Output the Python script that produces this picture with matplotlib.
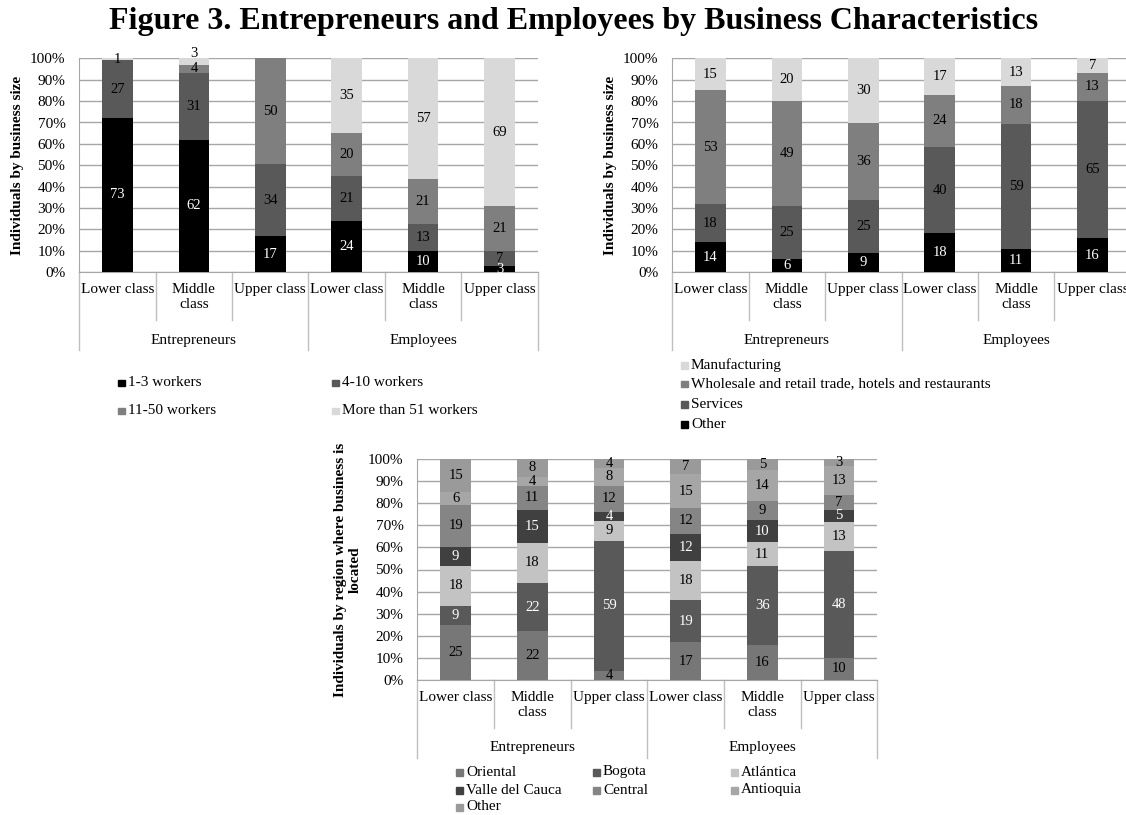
import numpy as np
import matplotlib.pyplot as plt
from matplotlib.patches import Rectangle
from matplotlib.ticker import PercentFormatter

plt.rcParams['font.family'] = ['Liberation Serif', 'DejaVu Serif']

W, H = 1126, 815

groups = ["Entrepreneurs", "Employees"]
classes = ["Lower class", "Middle\nclass", "Upper class"]

# Panel 1: business size (stacked bottom -> top)
size_names = ["1-3 workers", "4-10 workers", "11-50 workers", "More than 51 workers"]
size_1_3 = [73, 62, 17, 24, 10, 3]
size_4_10 = [27, 31, 34, 21, 13, 7]
size_11_50 = [0, 4, 50, 20, 21, 21]
size_51_plus = [1, 3, 0, 35, 57, 69]

# Panel 2: sector (bottom -> top)
sector_names = ["Other", "Services",
                "Wholesale and retail trade, hotels and restaurants", "Manufacturing"]
sector_other = [14, 6, 9, 18, 11, 16]
sector_services = [18, 25, 25, 40, 59, 65]
sector_trade = [53, 49, 36, 24, 18, 13]
sector_manuf = [15, 20, 30, 17, 13, 7]

# Panel 3: region (bottom -> top)
region_names = ["Oriental", "Bogota", "Atlántica", "Valle del Cauca",
                "Central", "Antioquia", "Other"]
region_oriental = [25, 22, 4, 17, 16, 10]
region_bogota = [9, 22, 59, 19, 36, 48]
region_atlantica = [18, 18, 9, 18, 11, 13]
region_valle = [9, 15, 4, 12, 10, 5]
region_central = [19, 11, 12, 12, 9, 7]
region_antioquia = [6, 4, 8, 15, 14, 13]
region_other = [15, 8, 4, 7, 5, 3]

grid_col = "#a6a6a6"
sep_col = "#bfbfbf"


def draw_panel(fig, rect, series, colors, text_colors, ylabel):
    ax = fig.add_axes(rect)
    data = np.array(series, dtype=float)
    pct = data / data.sum(axis=0) * 100  # 100% stacked like Excel
    x = np.arange(data.shape[1])
    bottom = np.zeros(data.shape[1])
    for k, (vals, p, col, tc) in enumerate(zip(data, pct, colors, text_colors)):
        ax.bar(x, p, bottom=bottom, width=0.4, color=col, zorder=3)
        for xi, v, pi, b in zip(x, vals, p, bottom):
            if v <= 0:
                continue
            if k == len(data) - 1 and 1.5 < pi <= 3.0:
                # tiny top segment: Excel pushes the label over the bar
                ax.text(xi, 99, f"{v:g}", ha="center", va="bottom",
                        color=tc, fontsize=10.5, zorder=4, clip_on=False)
            else:
                ax.text(xi, b + pi / 2, f"{v:g}", ha="center", va="center",
                        color=tc, fontsize=10.5, zorder=4)
        bottom += p

    ax.set_xlim(-0.5, len(x) - 0.5)
    ax.set_ylim(0, 100)
    ax.set_yticks(range(0, 101, 10))
    ax.yaxis.set_major_formatter(PercentFormatter(decimals=0))
    ax.tick_params(axis="y", length=0, pad=10, labelsize=11)
    ax.set_xticks([])
    ax.grid(axis="y", color=grid_col, lw=1)
    ax.set_axisbelow(True)
    for s in ["top", "right"]:
        ax.spines[s].set_visible(False)
    for s in ["left", "bottom"]:
        ax.spines[s].set_color(grid_col)
    ax.set_ylabel(ylabel, fontsize=11, fontweight="bold")
    ax.yaxis.set_label_coords(-0.12, 0.5)

    # two-level category axis
    h = rect[3] * H
    tr = ax.get_xaxis_transform()
    for i, edge in enumerate(np.arange(-0.5, len(x), 1)):
        depth = 78 if i % 3 == 0 else 48
        ax.plot([edge, edge], [0, -depth / h], transform=tr, color=sep_col,
                lw=1, clip_on=False)
    for i in x:
        ax.text(i, -11 / h, classes[i % 3], transform=tr, ha="center",
                va="top", fontsize=11)
    for g, name in enumerate(groups):
        ax.text(3 * g + 1, -68 / h, name, transform=tr, ha="center",
                va="center", fontsize=11)
    return ax


def legend_entries(fig, names, colors, xs, ys):
    for name, col, xp, yp in zip(names, colors, xs, ys):
        fig.add_artist(Rectangle((xp / W, 1 - (yp + 3.5) / H), 7 / W, 7 / H,
                                 transform=fig.transFigure, color=col))
        fig.text((xp + 10) / W, 1 - yp / H, name, va="center", fontsize=11)


fig = plt.figure(figsize=(W / 100, H / 100), dpi=100)

fig.text(0.509, 1 - 22 / H,
         "Figure 3. Entrepreneurs and Employees by Business Characteristics",
         ha="center", va="center", fontsize=23, fontweight="bold")

# panel 1
size_cols = ["#000000", "#595959", "#7f7f7f", "#d9d9d9"]
draw_panel(fig, [79.3 / W, 1 - 272.3 / H, 458.4 / W, 214 / H],
           [size_1_3, size_4_10, size_11_50, size_51_plus], size_cols,
           ["white", "black", "black", "black"], "Individuals by business size")
legend_entries(fig, size_names, size_cols, [118, 332, 118, 332], [383, 383, 411, 411])

# panel 2
sector_cols = ["#000000", "#595959", "#7f7f7f", "#d9d9d9"]
draw_panel(fig, [672.3 / W, 1 - 272.3 / H, 458.4 / W, 214 / H],
           [sector_other, sector_services, sector_trade, sector_manuf], sector_cols,
           ["white", "black", "black", "black"], "Individuals by business size")
legend_entries(fig, sector_names[::-1], sector_cols[::-1],
               [681] * 4, [365, 384, 404, 424])

# panel 3
region_cols = ["#777777", "#595959", "#c3c3c3", "#404040",
               "#858585", "#a6a6a6", "#9a9a9a"]
draw_panel(fig, [417.3 / W, 1 - 680 / H, 460 / W, 221 / H],
           [region_oriental, region_bogota, region_atlantica, region_valle,
            region_central, region_antioquia, region_other], region_cols,
           ["black", "white", "black", "white", "black", "black", "black"],
           "Individuals by region where business is\nlocated")
legend_entries(fig, region_names, region_cols,
               [456, 593, 731, 456, 593, 731, 456],
               [772, 772, 772, 790, 790, 790, 807])

fig.savefig("out.png", dpi=100)
